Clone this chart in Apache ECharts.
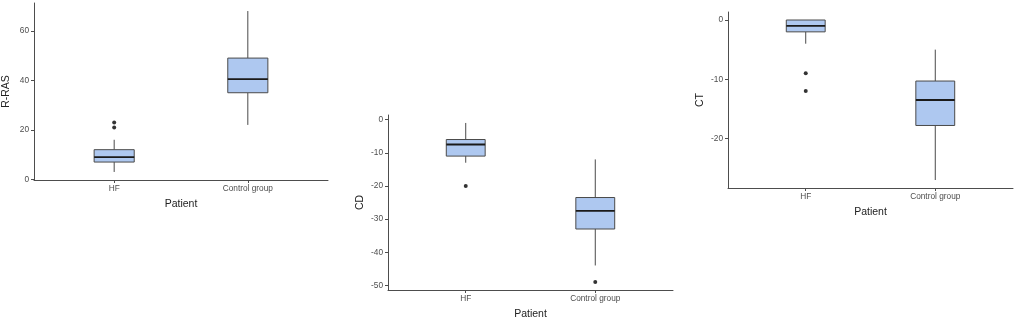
<!DOCTYPE html>
<html>
<head>
<meta charset="utf-8">
<script src="https://cdn.jsdelivr.net/npm/echarts@6/dist/echarts.min.js"></script>
<style>
  html, body { margin: 0; padding: 0; background: #fff; }
  #chart { width: 1022px; height: 325px; }
</style>
</head>
<body>
<div id="chart"></div>
<script>
// groups on the x axis
const categories = ['HF', 'Control group'];

// boxes: [low whisker, Q1, median, Q3, high whisker], one per category
const rrasBoxes = [[3, 7, 9, 12, 16], [22, 35, 40.5, 49, 68]];
const cdBoxes = [[-13, -11, -7.5, -6, -1], [-44, -33, -27.5, -23.5, -12]];
const ctBoxes = [[-4, -2, -1, 0, 0], [-27, -17.8, -13.5, -10.3, -5]];

// outliers: [category index, value]
const rrasOutliers = [[0, 21], [0, 23]];
const cdOutliers = [[0, -20], [1, -49]];
const ctOutliers = [[0, -9], [0, -12]];

// y tick labels
const rrasTicks = [0, 20, 40, 60];
const cdTicks = [0, -10, -20, -30, -40, -50];
const ctTicks = [0, -10, -20];

const AXIS_COLOR = '#4d4d4d';
const FILL = '#aec8f0';
const BOX_WIDTH = 0.3; // in category units

let chart = echarts.init(document.getElementById('chart'));

function renderBox(params, api) {
    let x = api.value(0);
    let lo = api.coord([x, api.value(1)]);
    let q1 = api.coord([x, api.value(2)]);
    let med = api.coord([x, api.value(3)]);
    let q3 = api.coord([x, api.value(4)]);
    let hi = api.coord([x, api.value(5)]);
    let half = api.size([BOX_WIDTH, 0])[0] / 2;
    let line = { stroke: '#4a4a4a', lineWidth: 1 };
    return {
        type: 'group',
        children: [
            { type: 'line', shape: { x1: lo[0], y1: lo[1], x2: q1[0], y2: q1[1] }, style: line },
            { type: 'line', shape: { x1: q3[0], y1: q3[1], x2: hi[0], y2: hi[1] }, style: line },
            {
                type: 'rect',
                shape: { x: q3[0] - half, y: q3[1], width: half * 2, height: q1[1] - q3[1] },
                style: { fill: FILL, stroke: '#4a4a4a', lineWidth: 1 }
            },
            {
                type: 'line',
                shape: { x1: med[0] - half, y1: med[1], x2: med[0] + half, y2: med[1] },
                style: { stroke: '#1a1a1a', lineWidth: 1.8 }
            }
        ]
    };
}

function expand(boxes, outliers) {
    let vals = [];
    boxes.forEach(b => vals.push(...b));
    outliers.forEach(o => vals.push(o[1]));
    let lo = Math.min(...vals), hi = Math.max(...vals);
    let pad = (hi - lo) * 0.05;
    return [lo - pad, hi + pad];
}

function panel(idx, name, boxes, outliers, ticks) {
    let range = expand(boxes, outliers);
    let xAxis = {
        gridIndex: idx,
        type: 'value',
        min: 0.4,
        max: 2.6,
        name: 'Patient',
        nameLocation: 'middle',
        nameGap: 19,
        nameTextStyle: { fontFamily: 'Liberation Sans', fontSize: 10.5, color: '#222' },
        splitLine: { show: false },
        axisLine: { onZero: false, lineStyle: { color: AXIS_COLOR, width: 1 } },
        axisTick: { show: true, length: 3, lineStyle: { color: AXIS_COLOR }, customValues: [1, 2] },
        axisLabel: {
            customValues: [1, 2],
            formatter: v => categories[Math.round(v) - 1],
            fontFamily: 'Liberation Sans', fontSize: 8.3, color: AXIS_COLOR, margin: 5
        }
    };
    let yAxis = {
        gridIndex: idx,
        type: 'value',
        min: range[0],
        max: range[1],
        name: name,
        nameLocation: 'middle',
        nameGap: 22,
        nameTextStyle: { fontFamily: 'Liberation Sans', fontSize: 10.5, color: '#222' },
        splitLine: { show: false },
        axisLine: { show: true, onZero: false, lineStyle: { color: AXIS_COLOR, width: 1 } },
        axisTick: { show: true, length: 3, lineStyle: { color: AXIS_COLOR }, customValues: ticks },
        axisLabel: {
            customValues: ticks,
            fontFamily: 'Liberation Sans', fontSize: 8.3, color: AXIS_COLOR, margin: 5
        }
    };
    let series = [
        {
            type: 'custom',
            xAxisIndex: idx,
            yAxisIndex: idx,
            renderItem: renderBox,
            data: boxes.map((b, i) => [i + 1].concat(b)),
            silent: true
        },
        {
            type: 'scatter',
            xAxisIndex: idx,
            yAxisIndex: idx,
            symbolSize: 4,
            itemStyle: { color: '#000' },
            data: outliers.map(o => [o[0] + 1, o[1]]),
            silent: true
        }
    ];
    return { xAxis, yAxis, series };
}

let p1 = panel(0, 'R-RAS', rrasBoxes, rrasOutliers, rrasTicks);
let p2 = panel(1, 'CD', cdBoxes, cdOutliers, cdTicks);
let p3 = panel(2, 'CT', ctBoxes, ctOutliers, ctTicks);

let echarts_options = {
    animation: false,
    backgroundColor: '#fff',
    grid: [
        { left: 34, top: 3, width: 294, height: 177 },
        { left: 388, top: 115, width: 285, height: 177 },
        { left: 728, top: 12, width: 285, height: 176 }
    ],
    xAxis: [p1.xAxis, p2.xAxis, p3.xAxis],
    yAxis: [p1.yAxis, p2.yAxis, p3.yAxis],
    series: [].concat(p1.series, p2.series, p3.series)
};

chart.setOption(echarts_options);

window.addEventListener('resize', function () {
    chart?.resize();
});
</script>
</body>
</html>
